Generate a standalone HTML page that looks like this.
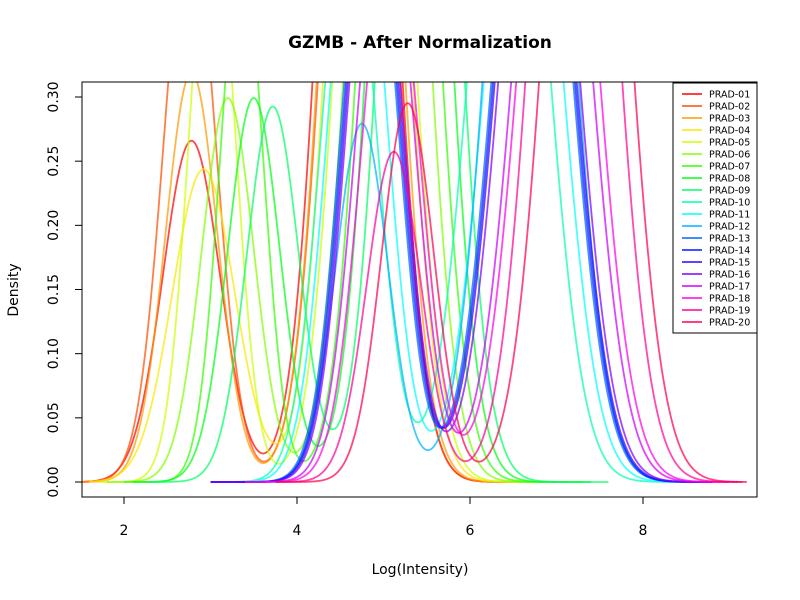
<!DOCTYPE html>
<html><head><meta charset="utf-8"><style>
body{margin:0;background:#fff;}
svg{display:block;font-family:"DejaVu Sans","Liberation Sans",sans-serif;}
</style></head><body>
<svg id="chart" width="800" height="600">
<text x="420" y="48" text-anchor="middle" font-size="17" font-weight="bold">GZMB - After Normalization</text>
<text x="420" y="574" text-anchor="middle" font-size="14">Log(Intensity)</text>
<text transform="translate(18,290) rotate(-90)" text-anchor="middle" font-size="14">Density</text>
<g id="curves"></g>
<rect x="82" y="82" width="675" height="415" fill="none" stroke="#000" stroke-width="1"/>
<g id="axes"></g>
<g id="legend"></g>
</svg>
<script>
const samples=["PRAD-01","PRAD-02","PRAD-03","PRAD-04","PRAD-05","PRAD-06","PRAD-07","PRAD-08","PRAD-09","PRAD-10","PRAD-11","PRAD-12","PRAD-13","PRAD-14","PRAD-15","PRAD-16","PRAD-17","PRAD-18","PRAD-19","PRAD-20"];
const mu1=[2.78,2.76,2.78,2.92,3.02,3.2,3.36,3.5,3.72,4.6,4.7,4.75,4.84,4.86,4.88,4.9,5.02,5.08,5.12,5.28];
const sd1=[0.33,0.30,0.30,0.36,0.26,0.30,0.25,0.30,0.30,0.32,0.33,0.30,0.32,0.32,0.32,0.32,0.33,0.33,0.31,0.30];
const w1=[0.22,0.33,0.24,0.22,0.30,0.225,0.26,0.225,0.22,0.36,0.40,0.21,0.38,0.38,0.38,0.38,0.38,0.36,0.20,0.222];
const mu2=[4.7,4.72,4.74,4.82,4.9,5.05,5.18,5.3,5.42,6.45,6.62,6.7,6.72,6.74,6.76,6.8,6.95,7.02,7.2,7.35];
const sd2=[0.37,0.37,0.37,0.37,0.37,0.37,0.37,0.37,0.37,0.42,0.42,0.42,0.42,0.42,0.42,0.42,0.42,0.42,0.42,0.42];
const lo=[1.5,1.5,1.5,1.6,1.7,1.8,2.0,2.1,2.3,3.0,3.0,3.0,3.0,3.0,3.0,3.0,3.4,3.4,3.75,3.75];
const hi=[6.5,6.5,6.6,6.7,6.9,7.1,7.3,7.4,7.6,8.5,8.6,8.7,8.7,8.8,8.8,8.8,9.0,9.1,9.15,9.2];
const xTicks=[2,4,6,8];
const yTicks=[0,0.05,0.10,0.15,0.20,0.25,0.30];
const yTickLabels=["0.00","0.05","0.10","0.15","0.20","0.25","0.30"];

const NS="http://www.w3.org/2000/svg";
const X=v=>124+(v-2)*86.5;
const Y=v=>482-v*1283.3;
const dn=(x,m,s)=>Math.exp(-0.5*((x-m)/s)**2)/(s*2.5066283);
const curves=document.getElementById('curves');
const clip=document.createElementNS(NS,'clipPath');clip.setAttribute('id','pc');
const cr=document.createElementNS(NS,'rect');cr.setAttribute('x',82);cr.setAttribute('y',82);cr.setAttribute('width',675);cr.setAttribute('height',415);
clip.appendChild(cr);document.getElementById('chart').appendChild(clip);
curves.setAttribute('clip-path','url(#pc)');
const col=i=>`hsl(${i*18},100%,50%)`;
samples.forEach((s,i)=>{
  let d='';
  for(let k=0;k<=400;k++){
    const x=lo[i]+(hi[i]-lo[i])*k/400;
    const y=w1[i]*dn(x,mu1[i],sd1[i])+(1-w1[i])*dn(x,mu2[i],sd2[i]);
    d+=(k?'L':'M')+X(x).toFixed(2)+','+Math.max(Y(y),-2000).toFixed(2);
  }
  const p=document.createElementNS(NS,'path');
  p.setAttribute('d',d);p.setAttribute('fill','none');p.setAttribute('stroke',col(i));
  p.setAttribute('stroke-width','1.8');p.setAttribute('stroke-opacity','0.72');
  
  
  curves.appendChild(p);
});
const axes=document.getElementById('axes');
function el(tag,attrs,txt){const e=document.createElementNS(NS,tag);for(const k in attrs)e.setAttribute(k,attrs[k]);if(txt!==undefined)e.textContent=txt;axes.appendChild(e);return e;}
let xl=el('line',{x1:X(2),x2:X(8),y1:497,y2:497,stroke:'#000'});


xTicks.forEach(t=>{
  const tk=el('line',{x1:X(t),x2:X(t),y1:497,y2:504,stroke:'#000'});
  
  
  const tl=el('text',{x:X(t),y:535,'text-anchor':'middle','font-size':'14'},String(t));
  
  
});
let yl=el('line',{x1:82,x2:82,y1:Y(0),y2:Y(0.30),stroke:'#000'});


yTicks.forEach((t,i)=>{
  const tk=el('line',{x1:75,x2:82,y1:Y(t),y2:Y(t),stroke:'#000'});
  
  
  const tl=el('text',{transform:`translate(58,${Y(t)}) rotate(-90)`,'text-anchor':'middle','font-size':'14'},yTickLabels[i]);
  
  
});
const lg=document.getElementById('legend');
const box=document.createElementNS(NS,'rect');
box.setAttribute('x',673);box.setAttribute('y',83);box.setAttribute('width',84);box.setAttribute('height',250);
box.setAttribute('fill','#fff');box.setAttribute('stroke','#000');


lg.appendChild(box);
samples.forEach((s,i)=>{
  const y=94+i*12;
  const g=document.createElementNS(NS,'g');
  
  
  const l=document.createElementNS(NS,'line');
  l.setAttribute('x1',682);l.setAttribute('x2',702);l.setAttribute('y1',y);l.setAttribute('y2',y);
  l.setAttribute('stroke',col(i));l.setAttribute('stroke-width','2');l.setAttribute('stroke-opacity','0.75');
  const t=document.createElementNS(NS,'text');
  t.setAttribute('x',709);t.setAttribute('y',y+3.5);t.setAttribute('font-size','9.5');t.textContent=s;
  g.appendChild(l);g.appendChild(t);lg.appendChild(g);
});
</script>
</body></html>
